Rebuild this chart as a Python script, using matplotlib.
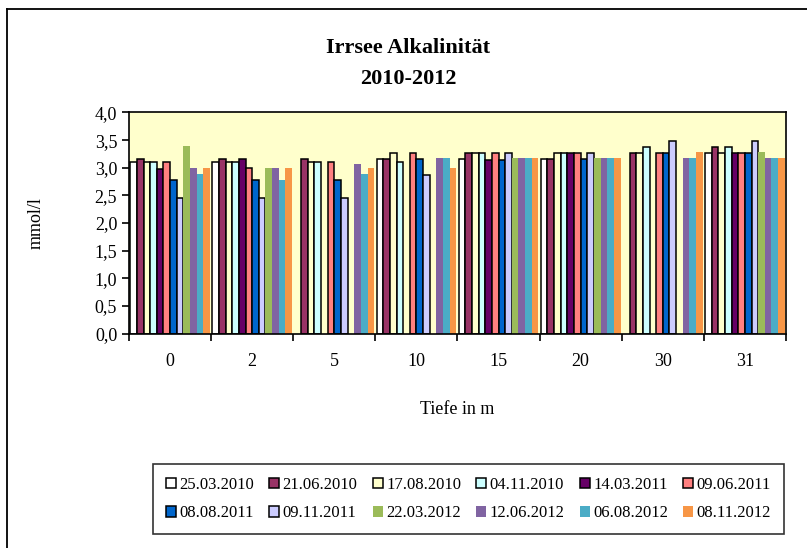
import numpy as np
import matplotlib
matplotlib.use("Agg")
import matplotlib.pyplot as plt
from matplotlib.patches import Rectangle
from matplotlib.lines import Line2D

plt.rcParams['font.family'] = ['Liberation Serif', 'DejaVu Serif']

nan = np.nan

depths = ['0', '2', '5', '10', '15', '20', '30', '31']
dates = ['25.03.2010', '21.06.2010', '17.08.2010', '04.11.2010',
         '14.03.2011', '09.06.2011', '08.08.2011', '09.11.2011',
         '22.03.2012', '12.06.2012', '06.08.2012', '08.11.2012']

# mmol/l per depth, one list per sampling date
v_25_03_2010 = [3.10, 3.10, nan, 3.15, 3.15, 3.15, nan, 3.27]
v_21_06_2010 = [3.15, 3.15, 3.15, 3.15, 3.26, 3.15, 3.27, 3.38]
v_17_08_2010 = [3.10, 3.10, 3.10, 3.27, 3.26, 3.26, 3.27, 3.27]
v_04_11_2010 = [3.10, 3.10, 3.10, 3.10, 3.26, 3.26, 3.38, 3.38]
v_14_03_2011 = [2.98, 3.15, nan, nan, 3.14, 3.26, nan, 3.27]
v_09_06_2011 = [3.10, 3.00, 3.10, 3.27, 3.26, 3.26, 3.27, 3.27]
v_08_08_2011 = [2.77, 2.77, 2.77, 3.15, 3.14, 3.15, 3.27, 3.27]
v_09_11_2011 = [2.46, 2.46, 2.46, 2.87, 3.26, 3.26, 3.49, 3.49]
v_22_03_2012 = [3.39, 3.00, nan, nan, 3.17, 3.17, nan, 3.29]
v_12_06_2012 = [3.00, 3.00, 3.07, 3.17, 3.17, 3.17, 3.17, 3.17]
v_06_08_2012 = [2.89, 2.78, 2.89, 3.17, 3.17, 3.17, 3.17, 3.17]
v_08_11_2012 = [3.00, 3.00, 3.00, 3.00, 3.17, 3.17, 3.29, 3.17]

series = [v_25_03_2010, v_21_06_2010, v_17_08_2010, v_04_11_2010,
          v_14_03_2011, v_09_06_2011, v_08_08_2011, v_09_11_2011,
          v_22_03_2012, v_12_06_2012, v_06_08_2012, v_08_11_2012]

colors = ['#FFFFFF', '#993366', '#FFFFCC', '#CCFFFF',
          '#660066', '#FF8080', '#0066CC', '#CCCCFF',
          '#9BBB59', '#8064A2', '#4BACC6', '#F79646']
outlined = [True] * 8 + [False] * 4

fig = plt.figure(figsize=(8.07, 5.48), dpi=100)
ax = fig.add_axes([129 / 807, 1 - 333.5 / 548, 657 / 807, 221 / 548])
ax.set_facecolor('#FFFFCC')

x = np.arange(len(depths))
group = 0.97
w = group / len(series)
handles = []
for j, (vals, c, ol) in enumerate(zip(series, colors, outlined)):
    pos = x - group / 2 + w * (j + 0.5)
    ec = 'black' if ol else c
    lw = 1.1 if ol else 0
    ax.bar(pos, vals, width=w, color=c, edgecolor=ec, linewidth=lw, zorder=2)
    handles.append(Rectangle((0, 0), 1, 1, facecolor=c, edgecolor=ec, linewidth=lw))

ax.set_xlim(-0.5, len(depths) - 0.5)
ax.set_ylim(0, 4.0)
ax.set_yticks(np.arange(0, 4.01, 0.5))
ax.set_yticklabels([f'{t:.1f}'.replace('.', ',') for t in np.arange(0, 4.01, 0.5)], fontsize=13)
ax.set_xticks(x)
ax.set_xticklabels(depths, fontsize=13)
ax.set_xticks(np.arange(-0.5, len(depths), 1), minor=True)
ax.tick_params(axis='x', which='major', length=0, pad=14)
ax.tick_params(axis='x', which='minor', length=5, width=1.2, direction='out')
ax.tick_params(axis='y', length=5, width=1.2, direction='out')
for s in ax.spines.values():
    s.set_linewidth(1.2)
    s.set_color('black')

ax.set_ylabel('mmol/l', fontsize=13, labelpad=36)
ax.set_xlabel('Tiefe in m', fontsize=13, labelpad=22)

fig.text(0.506, 1 - 48 / 548, 'Irrsee Alkalinität', ha='center', va='center',
         fontsize=16, fontweight='bold')
fig.text(0.506, 1 - 79 / 548, '2010-2012', ha='center', va='center',
         fontsize=16, fontweight='bold')

# legend: row-wise order
order = [0, 6, 1, 7, 2, 8, 3, 9, 4, 10, 5, 11]
leg = fig.legend([handles[i] for i in order], [dates[i] for i in order],
                 ncol=6, loc='center', mode='expand',
                 bbox_to_anchor=(145 / 807, 1 - 533 / 548, 647 / 807, 68 / 548),
                 fontsize=12, handlelength=0.6, handleheight=0.6,
                 handletextpad=0.2, columnspacing=0.3, labelspacing=0.75,
                 fancybox=False, frameon=True, borderpad=0.75)
leg.get_frame().set_edgecolor('black')
leg.get_frame().set_linewidth(1.2)

# chart area frame (only top and left edge visible)
fig.add_artist(Line2D([7 / 807, 7 / 807], [0, 1 - 9 / 548], transform=fig.transFigure,
                      color='black', linewidth=1.3))
fig.add_artist(Line2D([7 / 807, 1], [1 - 9 / 548, 1 - 9 / 548], transform=fig.transFigure,
                      color='black', linewidth=1.3))

fig.savefig('out.png', dpi=100)
